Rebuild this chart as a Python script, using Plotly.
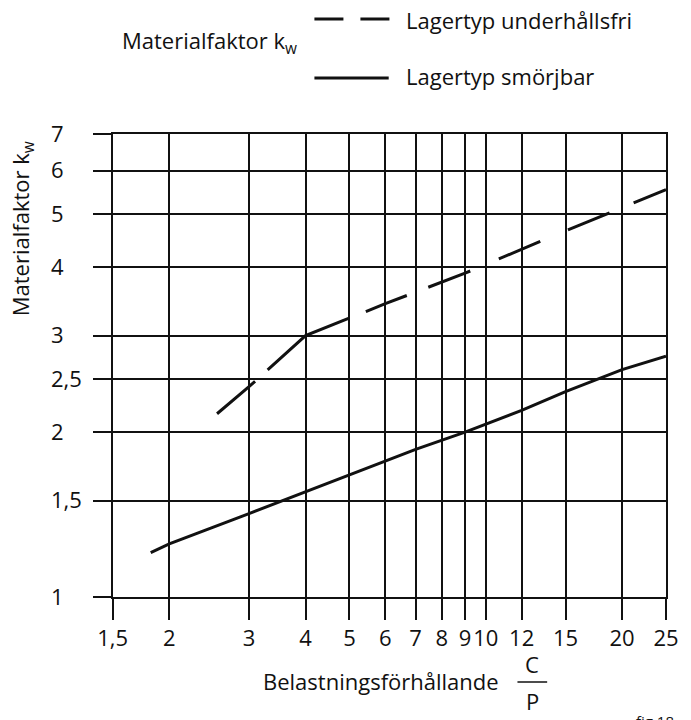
import math
import plotly.graph_objects as go

# Belastningsförhållande C/P (x) and materialfaktor k_w (y) for the two bearing types
cp_underhallsfri = [2.55, 3, 4, 6, 9, 15, 25]
kw_underhallsfri = [2.16, 2.42, 3.0, 3.43, 3.9, 4.66, 5.54]

cp_smorjbar = [1.82, 2, 3, 4, 5, 7, 9, 12, 15, 20, 25]
kw_smorjbar = [1.205, 1.25, 1.42, 1.555, 1.67, 1.86, 2.0, 2.19, 2.37, 2.6, 2.75]

x_ticks = [1.5, 2, 3, 4, 5, 6, 7, 8, 9, 10, 12, 15, 20, 25]
x_ticktext = ["1,5", "2", "3", "4", "5", "6", "7", "8", "9", "10", "12", "15", "20", "25"]
y_ticks = [1, 1.5, 2, 2.5, 3, 4, 5, 6, 7]
y_ticktext = ["1", "1,5", "2", "2,5", "3", "4", "5", "6", "7"]

name_underhallsfri = "Lagertyp underhållsfri"
name_smorjbar = "Lagertyp smörjbar"
y_title = "Materialfaktor k<sub>w</sub>"
x_title = "Belastningsförhållande"

W, H = 691, 720
ML, MR, MT, MB = 50, 19, 134, 123
PLOT_L = 113.3
FONT = "Open Sans"
INK = "#111111"
TXT = 22

paper_w = W - ML - MR
paper_h = H - MT - MB


def px(xpix):
    return (xpix - ML) / paper_w


def py(ypix):
    return (H - MB - ypix) / paper_h


fig = go.Figure()

fig.add_trace(go.Scatter(
    x=cp_underhallsfri, y=kw_underhallsfri, mode="lines", name=name_underhallsfri,
    line=dict(color=INK, width=3,
              dash="50px,17px,98px,18px,44px,23px,45px,31px,45px,30px,45px,26px"),
    showlegend=False,
))
# drawn on the overlaid y2 scale (same range as y), which carries the value labels
fig.add_trace(go.Scatter(
    x=cp_smorjbar, y=kw_smorjbar, mode="lines", name=name_smorjbar,
    yaxis="y2",
    line=dict(color=INK, width=3),
    showlegend=False,
))

axis_common = dict(
    type="log", showgrid=True, gridcolor=INK, gridwidth=1.5,
    showline=True, linecolor=INK, linewidth=1.5, mirror=True,
    ticks="outside", tickcolor=INK, tickwidth=1.5, zeroline=False,
)

fig.update_layout(
    width=W, height=H,
    margin=dict(l=ML, r=MR, t=MT, b=MB),
    paper_bgcolor="white", plot_bgcolor="white",
    font=dict(family=FONT, size=TXT, color=INK),
    xaxis=dict(
        **axis_common,
        domain=[px(PLOT_L), 1],
        range=[math.log10(1.5), math.log10(25)],
        tickvals=x_ticks, ticktext=x_ticktext, ticklen=21, tickangle=0,
        tickfont=dict(size=TXT),
    ),
    yaxis=dict(
        **axis_common,
        range=[0, math.log10(7)],
        tickvals=y_ticks, ticklen=18, showticklabels=False,
    ),
    # left-aligned value labels for the k_w scale
    yaxis2=dict(
        type="log", overlaying="y", anchor="free", position=0, side="right",
        range=[0, math.log10(7)], tickvals=y_ticks, ticktext=y_ticktext,
        ticks="", showgrid=False, showline=False, zeroline=False,
        tickfont=dict(size=TXT),
    ),
    showlegend=False,
)

annotations = [
    # axis titles
    dict(text=y_title, x=px(22), y=py(229), textangle=-90,
         xanchor="center", yanchor="middle"),
    dict(text=x_title, x=px(263), y=py(681), xanchor="left", yanchor="middle"),
    dict(text="C", x=px(537), y=py(664), xanchor="center", yanchor="middle"),
    dict(text="P", x=px(537), y=py(701), xanchor="center", yanchor="middle"),
    # legend block
    dict(text=y_title, x=px(121), y=py(42), xanchor="left", yanchor="middle"),
    dict(text=name_underhallsfri, x=px(407), y=py(20), xanchor="left",
         yanchor="middle"),
    dict(text=name_smorjbar, x=px(407), y=py(76), xanchor="left",
         yanchor="middle"),
    dict(text="fig 18", x=px(640), y=py(709), xanchor="left", yanchor="top",
         font=dict(size=15)),
]
for a in annotations:
    a.update(xref="paper", yref="paper", showarrow=False)
    a.setdefault("font", dict(size=TXT))
fig.update_layout(annotations=annotations)

shapes = [
    # fraction bar of C/P
    dict(type="line", x0=px(522), x1=px(552), y0=py(682), y1=py(682),
         line=dict(color=INK, width=1.5)),
    # legend samples
    dict(type="line", x0=px(317), x1=px(393), y0=py(19), y1=py(19),
         line=dict(color=INK, width=3, dash="29px,17px")),
    dict(type="line", x0=px(317), x1=px(392), y0=py(78), y1=py(78),
         line=dict(color=INK, width=3)),
]
for s in shapes:
    s.update(xref="paper", yref="paper")
fig.update_layout(shapes=shapes)

fig.write_html("out.html")
